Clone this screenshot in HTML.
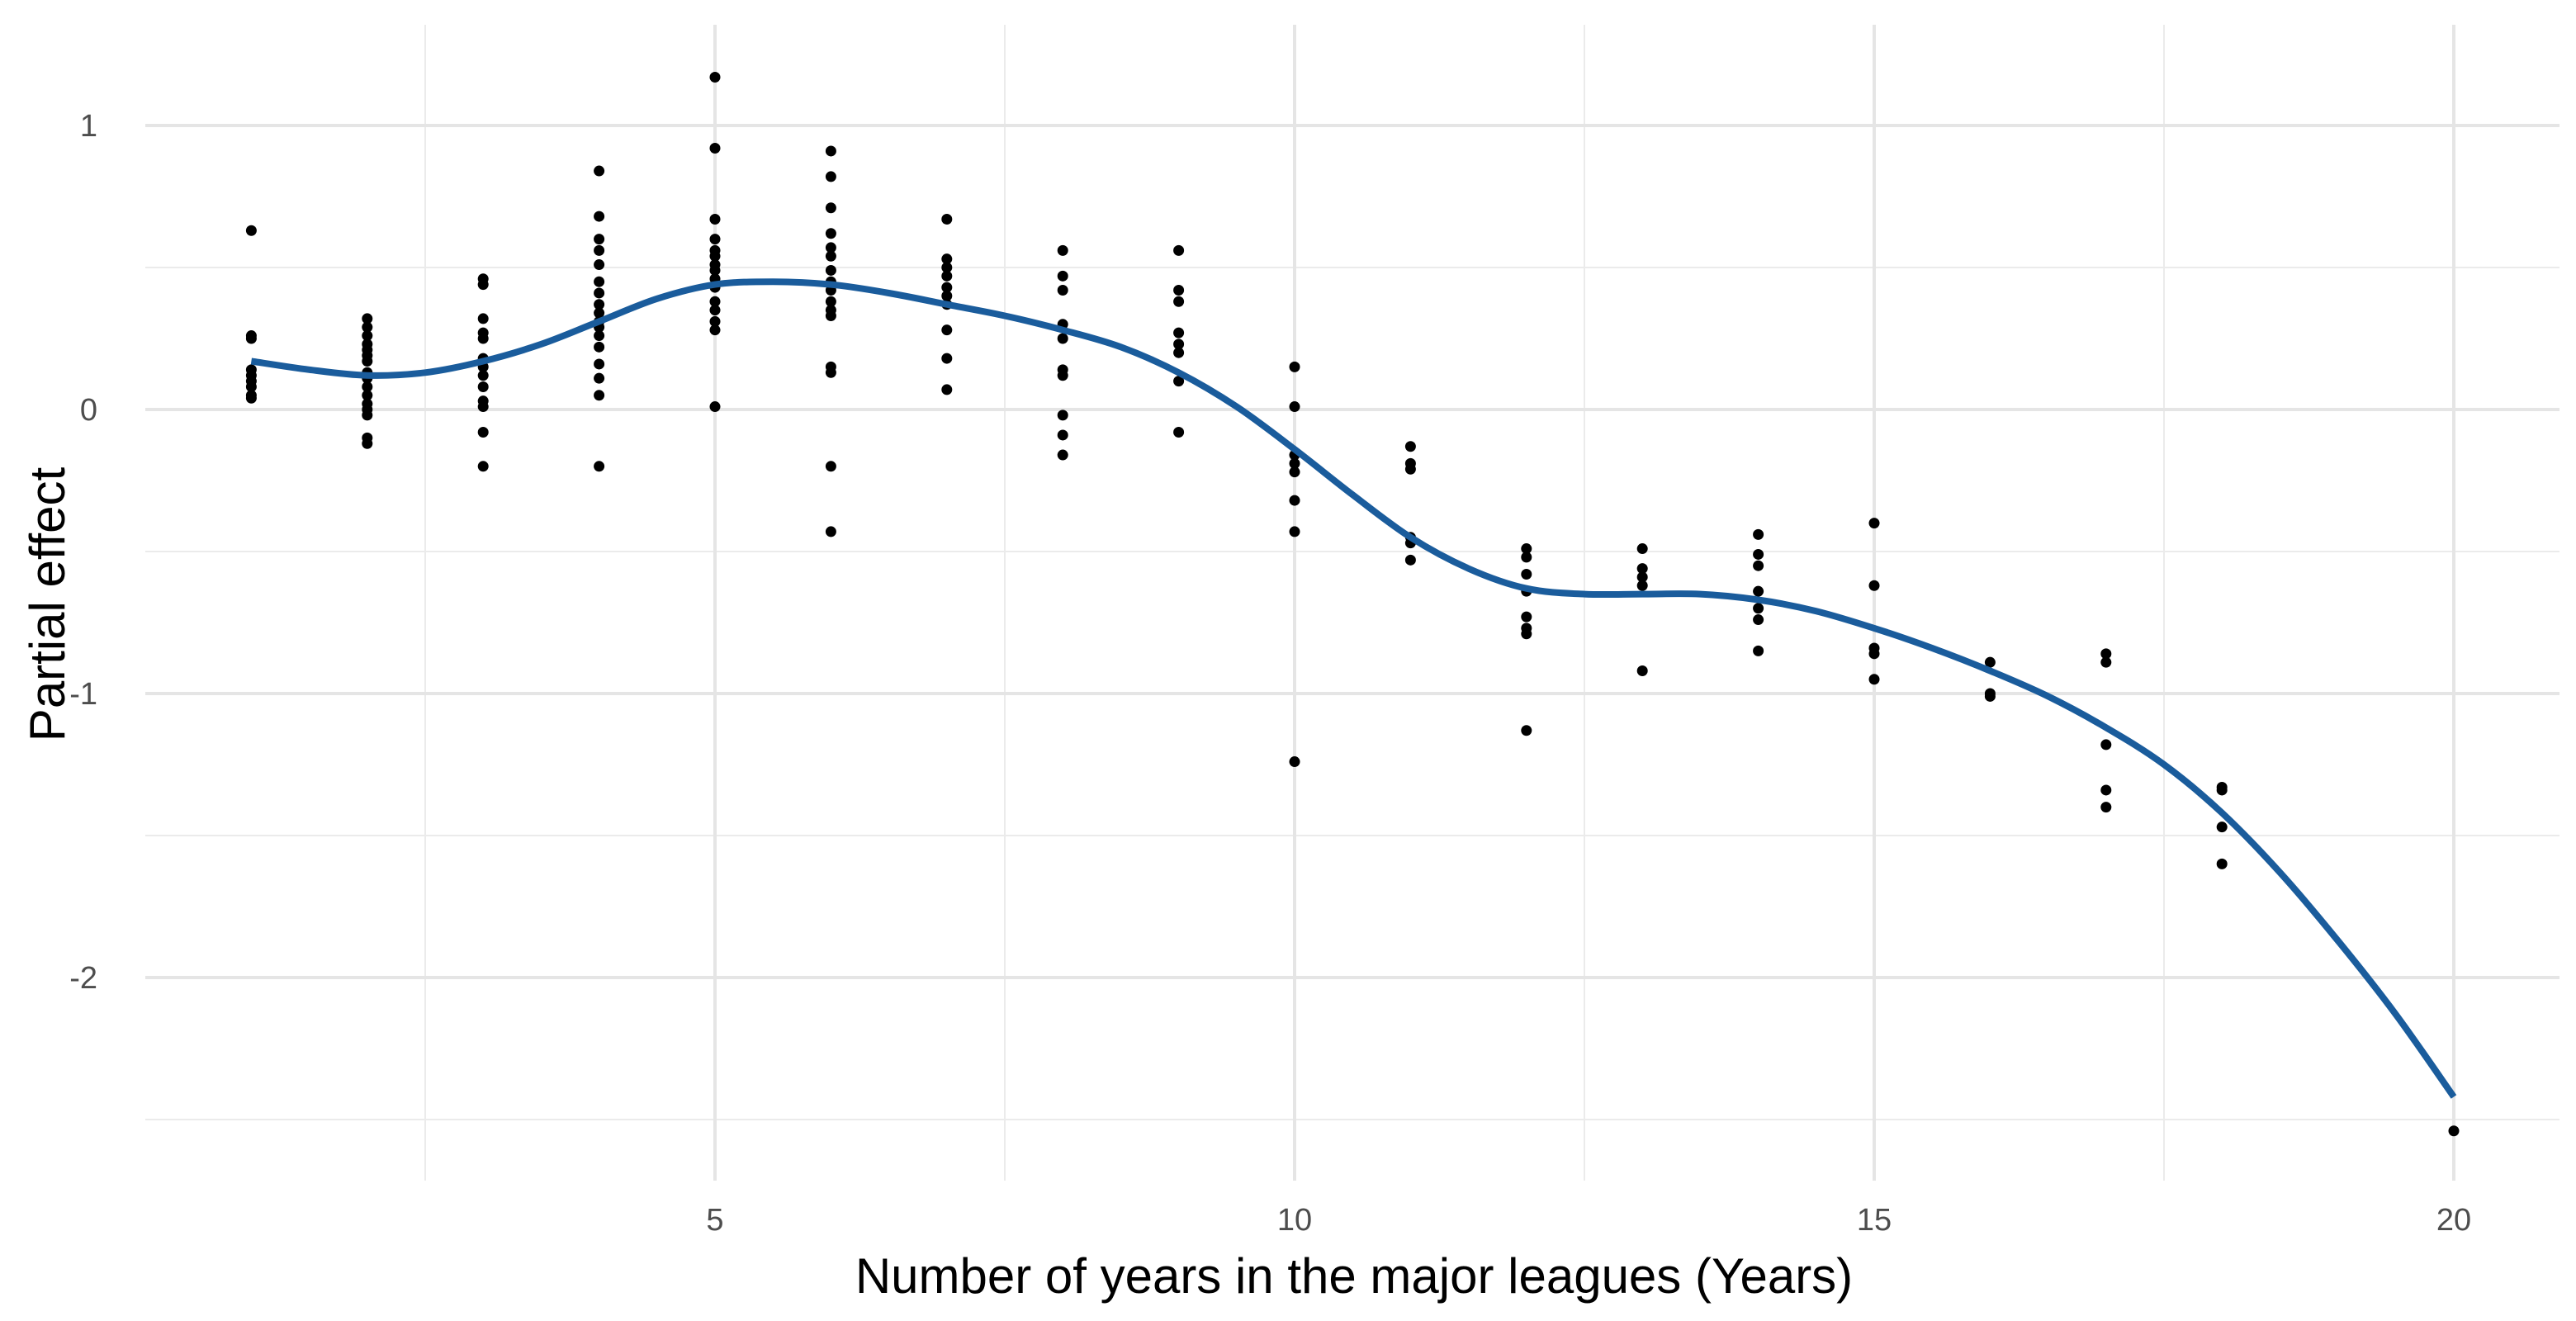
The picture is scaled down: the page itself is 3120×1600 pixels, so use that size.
<!DOCTYPE html>
<html><head><meta charset="utf-8"><style>
html,body{margin:0;padding:0;background:#fff;}
svg{display:block;font-family:"Liberation Sans",Arial,sans-serif;}
</style></head><body>
<svg id="chart" width="3120" height="1600" viewBox="0 0 3120 1600" xmlns="http://www.w3.org/2000/svg">
<g id="grid"></g>
<g id="pts"></g>
<g id="curve"></g>
<g id="axes"></g>
<text x="1640" y="1566" font-size="60" text-anchor="middle" fill="#000">Number of years in the major leagues (Years)</text>
<text transform="translate(78,732) rotate(-90)" font-size="60" text-anchor="middle" fill="#000">Partial effect</text>
</svg>
<script>
const xTicks=[5,10,15,20];
const xMinor=[2.5,7.5,12.5,17.5];
const yTicks=[1,0,-1,-2];
const yMinor=[0.5,-0.5,-1.5,-2.5];
const pointX=[1,2,3,4,5,6,7,8,9,10,11,12,13,14,15,16,17,18,20];
const pointY=[
[0.63,0.26,0.25,0.14,0.12,0.10,0.08,0.05,0.04],
[0.32,0.29,0.26,0.23,0.21,0.19,0.17,0.13,0.11,0.08,0.05,0.02,0.00,-0.02,-0.10,-0.12],
[0.46,0.44,0.32,0.27,0.25,0.18,0.15,0.12,0.08,0.03,0.01,-0.08,-0.20],
[0.84,0.68,0.60,0.56,0.51,0.45,0.41,0.37,0.34,0.31,0.29,0.26,0.22,0.16,0.11,0.05,-0.20],
[1.17,0.92,0.67,0.60,0.56,0.54,0.51,0.49,0.46,0.43,0.38,0.35,0.31,0.28,0.01],
[0.91,0.82,0.71,0.62,0.57,0.54,0.49,0.45,0.42,0.38,0.35,0.33,0.15,0.13,-0.20,-0.43],
[0.67,0.53,0.50,0.47,0.43,0.40,0.37,0.28,0.18,0.07],
[0.56,0.47,0.42,0.30,0.25,0.14,0.12,-0.02,-0.09,-0.16],
[0.56,0.42,0.38,0.27,0.23,0.20,0.10,-0.08],
[0.15,0.01,-0.16,-0.19,-0.22,-0.32,-0.43,-1.24],
[-0.13,-0.19,-0.21,-0.45,-0.47,-0.53],
[-0.49,-0.52,-0.58,-0.64,-0.73,-0.77,-0.79,-1.13],
[-0.49,-0.56,-0.59,-0.62,-0.92],
[-0.44,-0.51,-0.55,-0.64,-0.70,-0.74,-0.85],
[-0.40,-0.62,-0.84,-0.86,-0.95],
[-0.89,-1.00,-1.01],
[-0.86,-0.89,-1.18,-1.34,-1.40],
[-1.33,-1.34,-1.47,-1.60],
[-2.54]];
const curveX=[1,1.5,2,2.5,3,3.5,4,4.5,5,5.5,6,6.5,7,7.5,8,8.5,9,9.5,10,10.5,11,11.5,12,12.5,13,13.5,14,14.5,15,15.5,16,16.5,17,17.5,18,18.5,19,19.5,20];
const curveY=[0.17,0.14,0.12,0.13,0.17,0.23,0.31,0.39,0.44,0.45,0.44,0.41,0.37,0.33,0.28,0.22,0.13,0.01,-0.14,-0.30,-0.45,-0.56,-0.63,-0.65,-0.65,-0.65,-0.67,-0.71,-0.77,-0.84,-0.92,-1.01,-1.12,-1.25,-1.42,-1.63,-1.87,-2.13,-2.42];

const NS="http://www.w3.org/2000/svg";
const L=176,R=3100,T=30,B=1430;
const sx=v=>866+(v-5)*140.4;
const sy=v=>496-v*344;
function mk(tag,attrs,parent){const e=document.createElementNS(NS,tag);for(const k in attrs)e.setAttribute(k,attrs[k]);parent.appendChild(e);return e;}
const grid=document.getElementById('grid'),axes=document.getElementById('axes');
xMinor.forEach(v=>{const l=mk('line',{x1:sx(v),x2:sx(v),y1:T,y2:B,stroke:'#ebebeb','stroke-width':2},grid);

});
yMinor.forEach(v=>{const l=mk('line',{x1:L,x2:R,y1:sy(v),y2:sy(v),stroke:'#ebebeb','stroke-width':2},grid);

});
xTicks.forEach(v=>{const l=mk('line',{x1:sx(v),x2:sx(v),y1:T,y2:B,stroke:'#e5e5e5','stroke-width':4},grid);


const t=mk('text',{x:sx(v),y:1490,'font-size':38,'text-anchor':'middle',fill:'#4d4d4d'},axes);t.textContent=v;

});
yTicks.forEach(v=>{const l=mk('line',{x1:L,x2:R,y1:sy(v),y2:sy(v),stroke:'#e5e5e5','stroke-width':4},grid);


const t=mk('text',{x:118,y:sy(v)+13,'font-size':38,'text-anchor':'end',fill:'#4d4d4d'},axes);t.textContent=v;

});
const pts=document.getElementById('pts');
pointX.forEach((x,i)=>pointY[i].forEach(y=>{const c=mk('circle',{cx:sx(x),cy:sy(y),r:6.5,fill:'#000'},pts);

}));
const P=curveX.map((x,i)=>[sx(x),sy(curveY[i])]);
let d='M'+P[0][0].toFixed(1)+','+P[0][1].toFixed(1);
for(let i=0;i<P.length-1;i++){
  const p0=P[Math.max(0,i-1)],p1=P[i],p2=P[i+1],p3=P[Math.min(P.length-1,i+2)];
  const c1=[p1[0]+(p2[0]-p0[0])/6,p1[1]+(p2[1]-p0[1])/6];
  const c2=[p2[0]-(p3[0]-p1[0])/6,p2[1]-(p3[1]-p1[1])/6];
  d+=' C'+c1.map(v=>v.toFixed(1)).join(',')+' '+c2.map(v=>v.toFixed(1)).join(',')+' '+p2.map(v=>v.toFixed(1)).join(',');
}
const p=mk('path',{d:d,fill:'none',stroke:'#1a5c9c','stroke-width':8,'stroke-linejoin':'round'},document.getElementById('curve'));


</script>
</body></html>
